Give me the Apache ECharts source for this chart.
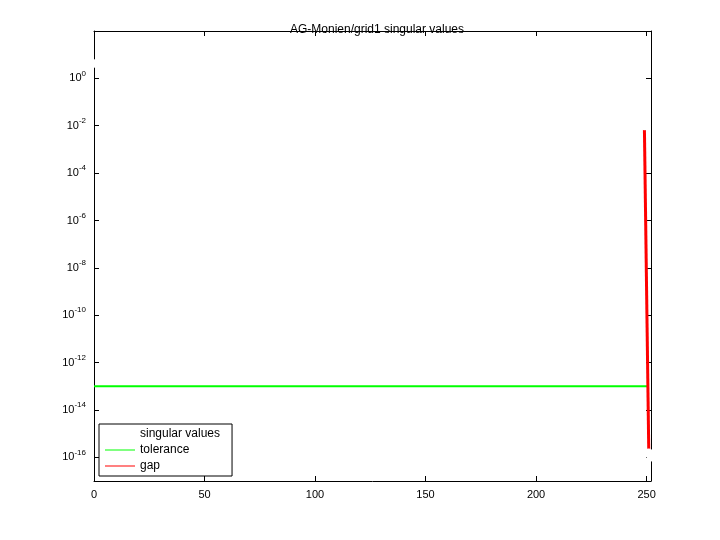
<!DOCTYPE html>
<html><head><meta charset="utf-8">
<script src="https://cdn.jsdelivr.net/npm/echarts@6/dist/echarts.min.js"></script>
<style>html,body{margin:0;background:#fff}#c{width:720px;height:540px}</style>
</head><body><div id="c"></div>
<script>
// log10 of singular values, index 1..252
const logSV = [
0.63,0.62,0.62,0.61,0.61,0.60,0.60,0.59,0.59,0.59,
0.58,0.58,0.58,0.57,0.57,0.57,0.56,0.56,0.56,0.55,
0.55,0.55,0.54,0.54,0.54,0.53,0.53,0.53,0.52,0.52,
0.52,0.51,0.51,0.51,0.50,0.50,0.50,0.49,0.49,0.49,
0.48,0.48,0.48,0.47,0.47,0.47,0.46,0.46,0.45,0.45,
0.45,0.44,0.44,0.44,0.43,0.43,0.42,0.42,0.42,0.41,
0.41,0.41,0.40,0.40,0.39,0.39,0.39,0.38,0.38,0.37,
0.37,0.37,0.36,0.36,0.35,0.35,0.34,0.34,0.33,0.33,
0.32,0.32,0.31,0.31,0.31,0.30,0.30,0.29,0.29,0.28,
0.28,0.28,0.27,0.27,0.26,0.26,0.25,0.25,0.25,0.24,
0.24,0.23,0.23,0.22,0.22,0.22,0.21,0.21,0.20,0.20,
0.19,0.19,0.18,0.18,0.17,0.17,0.16,0.16,0.15,0.15,
0.15,0.14,0.14,0.13,0.13,0.12,0.12,0.12,0.11,0.11,
0.10,0.10,0.09,0.09,0.09,0.08,0.08,0.07,0.07,0.07,
0.06,0.06,0.06,0.05,0.05,0.04,0.04,0.04,0.03,0.03,
0.03,0.02,0.02,0.02,0.01,0.01,0.01,0.00,0.00,-0.01,
-0.01,-0.02,-0.02,-0.03,-0.03,-0.04,-0.05,-0.05,-0.06,-0.07,
-0.07,-0.08,-0.09,-0.09,-0.10,-0.11,-0.11,-0.12,-0.13,-0.14,
-0.14,-0.15,-0.16,-0.17,-0.18,-0.18,-0.19,-0.20,-0.21,-0.22,
-0.23,-0.23,-0.24,-0.25,-0.26,-0.27,-0.28,-0.29,-0.30,-0.31,
-0.33,-0.35,-0.37,-0.38,-0.40,-0.42,-0.44,-0.46,-0.48,-0.50,
-0.52,-0.54,-0.56,-0.58,-0.60,-0.62,-0.63,-0.65,-0.66,-0.67,
-0.68,-0.69,-0.70,-0.71,-0.72,-0.73,-0.74,-0.74,-0.75,-0.76,
-0.76,-0.77,-0.78,-0.83,-0.88,-0.93,-0.96,-0.98,-0.99,-1.00,
-1.01,-1.02,-1.03,-1.05,-1.14,-1.22,-1.30,-1.47,-2.00,-2.00,
-15.82,-15.99
];
const tolerance = [[0,-13.0],[251,-13.0]];
const gap = [[249,-2.0],[251,-15.82]];
const yTicks = [-16,-14,-12,-10,-8,-6,-4,-2,0];

const F = 'Liberation Sans, Helvetica, Arial, sans-serif';
const chart = echarts.init(document.getElementById('c'));
const svData = logSV.map((v,i)=>[i+1,v]);
const axLine = {show:true,onZero:false,lineStyle:{color:'#000',width:1}};
const lineIcon = 'path://M0,3.5H30V4.5H0Z';
chart.setOption({
  animation:false,
  backgroundColor:'#fff',
  title:{text:'AG-Monien/grid1 singular values',left:372,textAlign:'center',top:19,
    textStyle:{fontFamily:F,fontSize:12,fontWeight:'normal',color:'#000'}},
  grid:{left:94,right:69,top:31,bottom:59},
  legend:{orient:'vertical',left:99,top:424,itemWidth:30,itemHeight:8,itemGap:4,
    padding:[4,12,4,6],borderColor:'#000',borderWidth:1,backgroundColor:'#fff',
    textStyle:{fontFamily:F,fontSize:12,color:'#000'},
    data:[{name:'singular values',icon:'emptyCircle',itemStyle:{color:'#fff',borderColor:'#000',borderWidth:1.5}},
      {name:'tolerance',icon:lineIcon},{name:'gap',icon:lineIcon}]},
  xAxis:[{type:'value',min:0,max:252,interval:50,axisLine:axLine,
    axisTick:{inside:true,length:5,lineStyle:{color:'#000'}},splitLine:{show:false},
    axisLabel:{fontFamily:F,fontSize:11,color:'#000',showMaxLabel:false}},
    {type:'value',position:'top',min:0,max:252,interval:50,axisLine:axLine,
    axisTick:{inside:true,length:5,lineStyle:{color:'#000'}},splitLine:{show:false},axisLabel:{show:false}}],
  yAxis:[{type:'value',min:-17,max:2,axisLine:axLine,splitLine:{show:false},
    axisTick:{inside:true,length:5,customValues:yTicks,lineStyle:{color:'#000'}},
    axisLabel:{customValues:yTicks,color:'#000',
      formatter:v=>'{b|10}{s|'+v+'}',
      rich:{b:{fontFamily:F,fontSize:11,color:'#000'},s:{fontFamily:F,fontSize:8,color:'#000',verticalAlign:'bottom',padding:[0,0,10,0]}}}},
    {type:'value',position:'right',min:-17,max:2,axisLine:axLine,splitLine:{show:false},
    axisTick:{inside:true,length:5,customValues:yTicks,lineStyle:{color:'#000'}},
    axisLabel:{show:false}}],
  series:[
    {name:'singular values',type:'scatter',data:svData,symbol:'emptyCircle',symbolSize:7,
      itemStyle:{color:'#fff',borderColor:'#000',borderWidth:1.5,opacity:1},z:3},
    {name:'tolerance',type:'line',data:tolerance,showSymbol:false,symbol:'none',
      lineStyle:{color:'#00ff00',width:2},itemStyle:{color:'#00ff00'},z:2},
    {name:'gap',type:'line',data:gap,showSymbol:false,symbol:'none',
      lineStyle:{color:'#ff0000',width:3},itemStyle:{color:'#ff0000'},z:2}
  ]
});
</script></body></html>
